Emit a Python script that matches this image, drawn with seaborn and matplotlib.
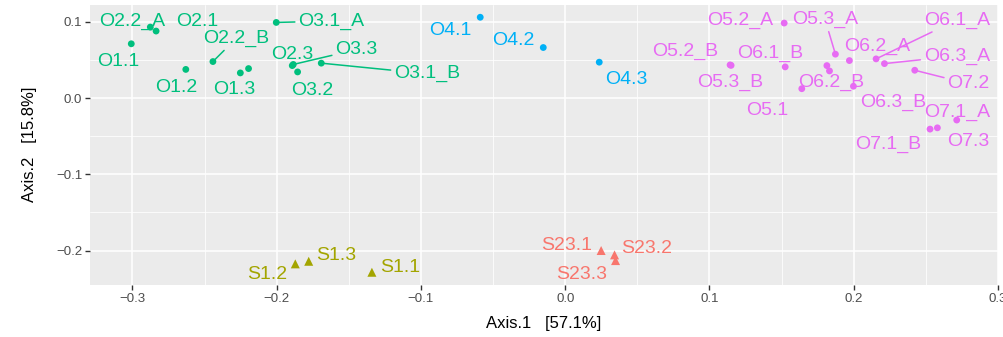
import numpy as np
import pandas as pd
import matplotlib
matplotlib.use("Agg")
import matplotlib.pyplot as plt
import matplotlib.transforms as mtransforms
import seaborn as sns

# ---------------- data ----------------
names = ["O1.1", "O1.2", "O1.3", "", "O2.1", "O2.2_A", "O2.2_B", "O2.3", "O3.1_A", "O3.1_B", "O3.2", "O3.3",
         "O4.1", "O4.2", "O4.3",
         "O5.1", "O5.2_A", "O5.2_B", "O5.3_A", "O5.3_B", "O6.1_A", "O6.1_B", "O6.2_A", "O6.2_B", "",
         "O6.3_A", "O6.3_B", "O7.1_A", "O7.1_B", "O7.2", "O7.3",
         "S1.1", "S1.2", "S1.3", "S23.1", "S23.2", "S23.3"]

axis1 = [-0.3008, -0.2630, -0.2252, -0.2195, -0.2836, -0.2876, -0.2442, -0.1892, -0.2003, -0.1691, -0.1855, -0.1885,
         -0.0589, -0.0152, 0.0236,
         0.1640, 0.1518, 0.1143, 0.1873, 0.1150, 0.2155, 0.1525, 0.1970, 0.1814, 0.1832,
         0.2213, 0.1998, 0.2714, 0.2529, 0.2423, 0.2580,
         -0.1340, -0.1871, -0.1778, 0.0249, 0.0342, 0.0349]

axis2 = [0.0711, 0.0375, 0.0329, 0.0386, 0.0878, 0.0930, 0.0478, 0.0425, 0.0991, 0.0457, 0.0342, 0.0440,
         0.1059, 0.0662, 0.0470,
         0.0122, 0.0983, 0.0434, 0.0575, 0.0428, 0.0513, 0.0408, 0.0491, 0.0425, 0.0355,
         0.0451, 0.0154, -0.0289, -0.0408, 0.0364, -0.0391,
         -0.2285, -0.2175, -0.2141, -0.2000, -0.2057, -0.2132]

group = (["O1-O3"] * 12 + ["O4"] * 3 + ["O5-O7"] * 16 + ["S1"] * 3 + ["S23"] * 3)
sample_type = (["O"] * 31 + ["S"] * 6)

# repelled label anchors (data units)
label_x = [-0.3096, -0.2696, -0.2294, np.nan, -0.2552, -0.3003, -0.2282, -0.1894, -0.1622, -0.0958, -0.1751, -0.1448,
           -0.0797, -0.0360, 0.0423,
           0.1398, 0.1213, 0.0832, 0.1802, 0.1143, 0.2714, 0.1421, 0.2160, 0.1841, np.nan,
           0.2714, 0.2275, 0.2714, 0.2240, 0.2795, 0.2795,
           -0.1143, -0.2067, -0.1587, 0.0012, 0.0566, 0.0116]
label_y = [0.0500, 0.0171, 0.0141, np.nan, 0.1036, 0.1036, 0.0807, 0.0596, 0.1036, 0.0346, 0.0128, 0.0662,
           0.0908, 0.0776, 0.0276,
           -0.0136, 0.1039, 0.0641, 0.1053, 0.0237, 0.1049, 0.0609, 0.0707, 0.0237, np.nan,
           0.0579, -0.0026, -0.0158, -0.0575, 0.0214, -0.0543,
           -0.2197, -0.2286, -0.2043, -0.1904, -0.1947, -0.2286]
segment_labels = ["O2.2_B", "O3.1_A", "O3.3", "O3.1_B", "O5.3_A", "O6.1_A", "O6.3_A", "O7.2"]

group_order = ["S23", "S1", "O1-O3", "O4", "O5-O7"]
palette = ["#F8766D", "#A3A500", "#00BF7D", "#00B0F6", "#E76BF3"]

df = pd.DataFrame({"name": names, "Axis.1": axis1, "Axis.2": axis2, "group": group,
                   "type": sample_type, "lx": label_x, "ly": label_y})

# ---------------- style ----------------
sns.set_theme(style="darkgrid", rc={
    "axes.facecolor": "#EBEBEB",
    "grid.color": "white",
    "axes.edgecolor": "none",
    "figure.facecolor": "white",
    "xtick.bottom": True, "ytick.left": True,
    "xtick.color": "#333333", "ytick.color": "#333333",
    "xtick.labelcolor": "#4D4D4D", "ytick.labelcolor": "#4D4D4D",
    "xtick.major.size": 3.5, "ytick.major.size": 3.5,
    "xtick.major.width": 1.0, "ytick.major.width": 1.0,
})
plt.rcParams["font.family"] = ["Liberation Sans", "DejaVu Sans"]

fig = plt.figure(figsize=(10.04, 3.37), dpi=100)
ax = fig.add_axes([90 / 1004, (337 - 285) / 337, (998 - 90) / 1004, (285 - 4.5) / 337])

circ = df[df["type"] == "O"]
tri = df[df["type"] == "S"]
sns.scatterplot(data=circ, x="Axis.1", y="Axis.2", hue="group", hue_order=group_order,
                palette=palette, marker="o", s=24, linewidth=0, legend=False, ax=ax, zorder=3)
sns.scatterplot(data=tri, x="Axis.1", y="Axis.2", hue="group", hue_order=group_order,
                palette=palette, marker="^", s=42, linewidth=0, legend=False, ax=ax, zorder=3)

color_map = dict(zip(group_order, palette))

# limits with ggplot-like 5% expansion
xr = df["Axis.1"].max() - df["Axis.1"].min()
yr = df["Axis.2"].max() - df["Axis.2"].min()
ax.set_xlim(df["Axis.1"].min() - 0.05 * xr, df["Axis.1"].max() + 0.05 * xr)
ax.set_ylim(df["Axis.2"].min() - 0.05 * yr, df["Axis.2"].max() + 0.05 * yr)

fs = 14
text_tr = mtransforms.offset_copy(ax.transData, fig=fig, x=0, y=-1.5, units="points")
for _, r in df.iterrows():
    if r["name"] == "":
        continue
    c = color_map[r["group"]]
    if r["name"] in segment_labels:
        ax.annotate(r["name"], xy=(r["Axis.1"], r["Axis.2"]), xytext=(r["lx"], r["ly"]),
                    textcoords=text_tr,
                    ha="center", va="center", fontsize=fs, color=c, zorder=4,
                    arrowprops=dict(arrowstyle="-", color=c, lw=1.1, shrinkA=0, shrinkB=2))
    else:
        ax.text(r["lx"], r["ly"], r["name"], ha="center", va="center", fontsize=fs,
                color=c, zorder=4, transform=text_tr)

xt = [-0.3, -0.2, -0.1, 0.0, 0.1, 0.2, 0.3]
yt = [-0.2, -0.1, 0.0, 0.1]
ax.set_xticks(xt)
ax.set_xticklabels([f"{v:.1f}".replace("-", "\u2212") for v in xt])
ax.set_yticks(yt)
ax.set_yticklabels([f"{v:.1f}".replace("-", "\u2212") for v in yt])
ax.set_xticks([-0.25, -0.15, -0.05, 0.05, 0.15, 0.25], minor=True)
ax.set_yticks([-0.15, -0.05, 0.05], minor=True)
ax.tick_params(axis="both", which="major", labelsize=9.5, pad=2)
ax.tick_params(axis="both", which="minor", length=0)
ax.grid(which="major", color="white", linewidth=1.1)
ax.grid(which="minor", color="white", linewidth=0.55)
ax.set_axisbelow(True)

ax.set_xlabel("Axis.1   [57.1%]", fontsize=12, color="black", labelpad=8)
ax.set_ylabel("Axis.2   [15.8%]", fontsize=12, color="black", labelpad=14)

fig.savefig("out.png", dpi=100)
